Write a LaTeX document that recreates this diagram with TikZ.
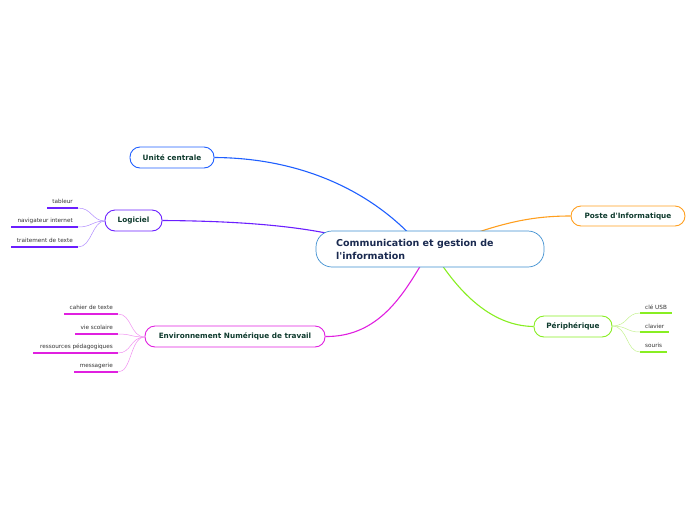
\documentclass[tikz,border=0pt]{standalone}
\usepackage{fontspec}
\setmainfont{DejaVu Sans}[Ligatures=TeXOff]
\definecolor{cblue}{HTML}{3D8FD1}
\definecolor{ublue}{HTML}{1F5FFF}
\definecolor{lpurple}{HTML}{6B1FFF}
\definecolor{lpurplel}{HTML}{B08CFF}
\definecolor{emag}{HTML}{E020E0}
\definecolor{emagl}{HTML}{F090F0}
\definecolor{porange}{HTML}{FF9F1F}
\definecolor{pgreen}{HTML}{88EE22}
\definecolor{pgreenl}{HTML}{C4F290}
\definecolor{ntext}{HTML}{0F3B2E}
\definecolor{ctext}{HTML}{1A2A50}
\definecolor{leaftext}{HTML}{333333}
\tikzset{
  x=1pt, y=-1pt,
  mainbox/.style={draw=#1, line width=0.9pt, rounded corners=10pt, fill=white,
    minimum height=21pt, inner sep=0pt, text=ntext,
    font=\fontsize{7.3}{8}\selectfont\bfseries},
  centralbox/.style={draw=cblue, line width=0.7pt, rounded corners=16pt, fill=white,
    minimum width=228pt, minimum height=36pt, inner sep=0pt},
  centraltxt/.style={anchor=north west, align=left, inner sep=0pt, text=ctext,
    font=\fontsize{9.5}{12.5}\selectfont\bfseries},
  link/.style={draw=#1, line width=1.1pt},
  leaflink/.style={draw=#1, line width=0.5pt},
  leafline/.style={draw=#1, line width=1.6pt},
  leaftxt/.style={anchor=base east, inner sep=0pt, text=leaftext,
    font=\fontsize{5.7}{6}\selectfont},
}
\begin{document}
\begin{tikzpicture}
\useasboundingbox (0,0) rectangle (696,520);

% main nodes
\node[mainbox=ublue, minimum width=84pt] (u) at (172,157.5) {Unité centrale};
\node[mainbox=lpurple, minimum width=57pt] (l) at (133.5,220.5) {Logiciel};
\node[mainbox=emag, minimum width=180pt] (e) at (235,336.5) {Environnement Numérique de travail};
\node[mainbox=porange, minimum width=114pt, minimum height=20pt] (p) at (628,216) {Poste d'Informatique};
\node[mainbox=pgreen, minimum width=78pt] (ph) at (573,326.5) {Périphérique};

% attachment points on central node
\coordinate (cu) at (407,231.5);
\coordinate (cl) at (326,233);
\coordinate (ce) at (420,266.5);
\coordinate (cp) at (480,231.5);
\coordinate (cph) at (443,266.5);

\path[link=ublue] (u.east) .. controls (300,158) and (365,190) .. (cu);
\path[link=lpurple] (l.east) .. controls (240,221) and (290,226) .. (cl);
\path[link=emag] (e.east) .. controls (375,337) and (400,300) .. (ce);
\path[link=porange] (cp) .. controls (515,220) and (540,216) .. (p.west);
\path[link=pgreen] (cph) .. controls (470,305) and (500,326) .. (ph.west);

% central node on top of the links
\node[centralbox] (c) at (430,249) {};
\node[centraltxt] (ct) at (336,239.5)
  {Communication et gestion de\\l'information};

% Logiciel leaves
\coordinate (la) at (105,221);
\node[leaftxt] (t1) at (73,203) {tableur};
\coordinate (t1a) at (47,208); \coordinate (t1b) at (78,208);
\node[leaftxt] (t2) at (73,222) {navigateur internet};
\coordinate (t2a) at (11,227); \coordinate (t2b) at (78,227);
\node[leaftxt] (t3) at (73,242) {traitement de texte};
\coordinate (t3a) at (11,247); \coordinate (t3b) at (78,247);
\foreach \a/\b in {t1a/t1b,t2a/t2b,t3a/t3b}{
  \path[leafline=lpurple] (\a) -- (\b);
}
\path[leaflink=lpurplel] (la) .. controls (92,221) and (92,208) .. (t1b);
\path[leaflink=lpurplel] (la) .. controls (92,221) and (92,227) .. (t2b);
\path[leaflink=lpurplel] (la) .. controls (92,221) and (92,247) .. (t3b);

% ENT leaves
\coordinate (ea) at (145,337);
\node[leaftxt] (e1) at (113,309) {cahier de texte};
\coordinate (e1a) at (64,314); \coordinate (e1b) at (118,314);
\node[leaftxt] (e2) at (113,329) {vie scolaire};
\coordinate (e2a) at (75,334); \coordinate (e2b) at (118,334);
\node[leaftxt] (e3) at (113,348) {ressources pédagogiques};
\coordinate (e3a) at (33,353); \coordinate (e3b) at (118,353);
\node[leaftxt] (e4) at (113,367) {messagerie};
\coordinate (e4a) at (74,372); \coordinate (e4b) at (118,372);
\foreach \a/\b in {e1a/e1b,e2a/e2b,e3a/e3b,e4a/e4b}{
  \path[leafline=emag] (\a) -- (\b);
}
\path[leaflink=emagl] (ea) .. controls (130,337) and (132,314) .. (e1b);
\path[leaflink=emagl] (ea) .. controls (130,337) and (132,334) .. (e2b);
\path[leaflink=emagl] (ea) .. controls (130,337) and (132,353) .. (e3b);
\path[leaflink=emagl] (ea) .. controls (130,337) and (132,372) .. (e4b);

% Peripherique leaves
\coordinate (pa) at (612,326);
\node[leaftxt, anchor=base west] (p1) at (645,309) {clé USB};
\coordinate (p1a) at (640,313); \coordinate (p1b) at (672,313);
\node[leaftxt, anchor=base west] (p2) at (645,328) {clavier};
\coordinate (p2a) at (640,332); \coordinate (p2b) at (669,332);
\node[leaftxt, anchor=base west] (p3) at (645,347) {souris};
\coordinate (p3a) at (640,352); \coordinate (p3b) at (667,352);
\foreach \a/\b in {p1a/p1b,p2a/p2b,p3a/p3b}{
  \path[leafline=pgreen] (\a) -- (\b);
}
\path[leaflink=pgreenl] (pa) .. controls (628,326) and (626,313) .. (p1a);
\path[leaflink=pgreenl] (pa) .. controls (628,326) and (626,332) .. (p2a);
\path[leaflink=pgreenl] (pa) .. controls (628,326) and (626,352) .. (p3a);
\end{tikzpicture}
\end{document}
